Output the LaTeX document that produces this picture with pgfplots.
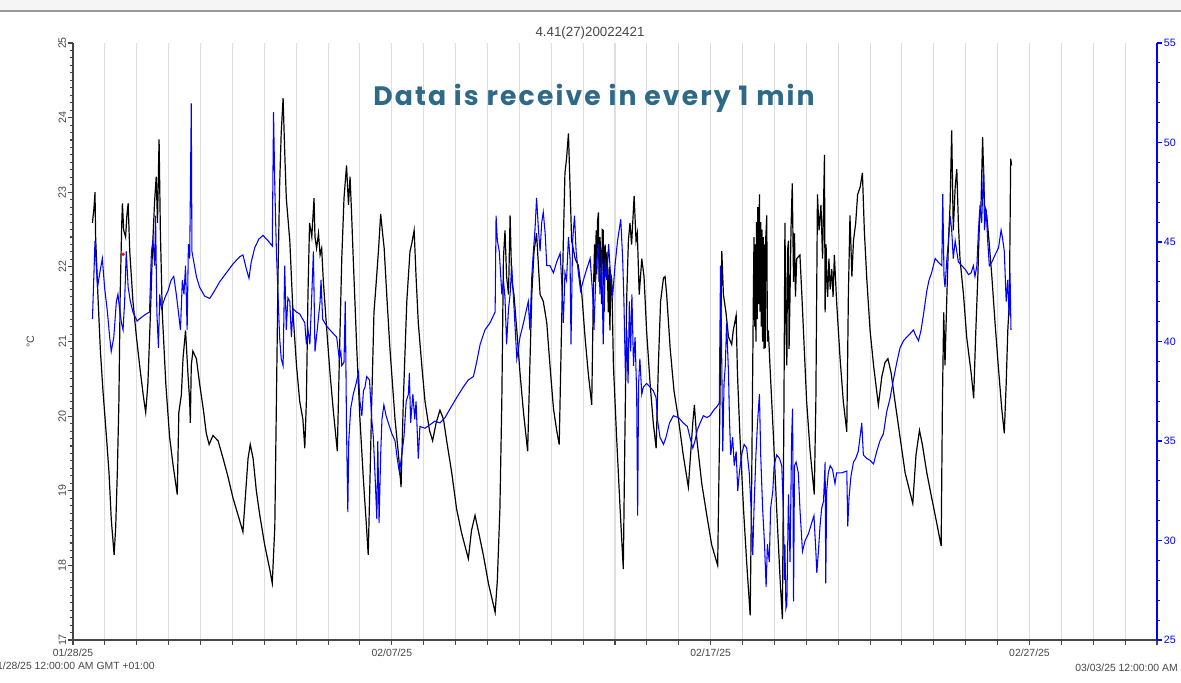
\documentclass[border=0pt]{standalone}
\usepackage{pgfplots}
\pgfplotsset{compat=1.18}
\usepackage{fontspec}
\setmainfont{Liberation Sans}
\newfontfamily\poppins{Poppins}[LetterSpace=8]
\definecolor{gridgray}{RGB}{222,222,222}
\definecolor{axgray}{RGB}{70,70,70}
\definecolor{noteteal}{RGB}{46,106,135}
\definecolor{rhblue}{RGB}{0,0,255}

% temperature (left axis, degC), x = days since 01/28/25
\pgfplotstableread{
d t
0.61 22.59
0.66 22.80
0.69 23.00
0.71 22.40
0.78 21.63
0.86 20.87
0.94 20.34
1.05 19.72
1.13 19.24
1.20 18.62
1.29 18.14
1.34 18.52
1.39 19.24
1.44 20.20
1.48 21.63
1.53 22.59
1.55 22.85
1.59 22.49
1.65 22.40
1.69 22.69
1.73 22.85
1.78 22.21
1.88 21.54
1.99 21.06
2.09 20.68
2.20 20.29
2.28 20.05
2.35 20.44
2.43 21.39
2.49 22.21
2.56 22.88
2.61 23.21
2.65 22.59
2.70 23.71
2.74 22.49
2.80 21.39
2.91 20.44
3.03 19.72
3.14 19.34
3.27 18.95
3.32 20.05
3.40 20.29
3.45 20.77
3.53 21.15
3.61 20.53
3.66 20.20
3.68 19.91
3.71 20.68
3.76 20.87
3.87 20.77
3.97 20.44
4.10 20.05
4.18 19.77
4.27 19.62
4.39 19.74
4.55 19.67
4.71 19.43
4.86 19.19
5.02 18.90
5.18 18.67
5.33 18.45
5.42 19.00
5.49 19.43
5.56 19.62
5.65 19.43
5.75 19.00
5.86 18.67
6.01 18.28
6.17 17.95
6.25 17.76
6.33 18.52
6.38 20.20
6.43 21.87
6.48 23.07
6.53 23.79
6.59 24.26
6.64 23.55
6.69 22.92
6.80 22.35
6.90 21.39
7.01 20.68
7.11 20.20
7.21 19.96
7.27 19.57
7.32 20.20
7.37 21.63
7.42 22.59
7.49 22.40
7.56 22.92
7.59 22.40
7.64 22.25
7.70 22.45
7.75 22.16
7.80 22.25
7.85 21.82
7.96 21.15
8.06 20.58
8.17 20.05
8.29 19.53
8.35 20.68
8.43 22.11
8.50 22.92
8.58 23.36
8.64 22.83
8.69 23.21
8.74 22.69
8.79 22.11
8.90 20.91
9.00 19.96
9.11 19.14
9.19 18.62
9.26 18.14
9.32 19.24
9.37 20.20
9.44 21.39
9.50 21.73
9.58 22.21
9.65 22.71
9.71 22.45
9.76 22.25
9.84 21.63
9.94 20.91
10.10 19.96
10.21 19.48
10.29 19.05
10.36 20.20
10.47 21.54
10.57 22.21
10.62 22.30
10.70 22.49
10.76 21.87
10.83 21.25
10.94 20.68
11.04 20.20
11.18 19.81
11.28 19.67
11.39 19.91
11.51 20.08
11.62 19.96
11.72 19.67
11.88 19.24
12.03 18.76
12.19 18.43
12.40 18.09
12.50 18.47
12.61 18.67
12.71 18.47
12.87 18.14
13.03 17.76
13.24 17.37
13.31 17.80
13.39 18.76
13.45 20.20
13.50 22.11
13.55 22.49
13.60 21.87
13.66 21.63
13.71 22.69
13.76 21.82
13.83 21.63
13.92 21.15
14.02 20.58
14.13 20.05
14.26 19.53
14.33 20.68
14.39 21.63
14.46 22.21
14.54 22.45
14.65 21.63
14.75 21.54
14.86 21.25
14.96 20.68
15.07 20.10
15.17 19.81
15.25 19.62
15.31 20.91
15.38 22.35
15.43 23.26
15.48 23.45
15.54 23.79
15.59 23.07
15.64 22.35
15.75 22.11
15.85 22.02
15.96 21.63
16.06 21.06
16.16 20.58
16.27 20.15
16.32 21.63
16.36 22.30
16.38 21.80
16.41 22.49
16.43 21.90
16.45 22.60
16.48 22.73
16.50 21.80
16.53 22.40
16.55 22.11
16.58 21.50
16.60 22.50
16.63 22.49
16.66 21.40
16.69 22.30
16.72 21.87
16.75 22.20
16.79 21.39
16.82 22.00
16.84 21.15
16.87 21.90
16.90 21.82
16.95 20.68
17.05 19.72
17.16 18.76
17.26 17.95
17.31 19.72
17.37 21.63
17.42 22.35
17.47 22.59
17.52 22.30
17.60 22.95
17.66 22.35
17.70 22.45
17.76 21.63
17.84 22.11
17.91 21.87
17.99 21.15
18.10 20.44
18.20 19.91
18.29 19.57
18.36 20.68
18.43 21.54
18.52 21.85
18.57 21.87
18.62 21.63
18.73 20.91
18.85 20.34
18.99 19.96
19.14 19.48
19.30 19.05
19.37 19.48
19.44 19.91
19.49 20.15
19.56 19.72
19.72 19.10
19.88 18.67
20.03 18.28
20.22 18.00
20.27 19.48
20.32 21.15
20.35 22.21
20.40 21.63
20.48 21.39
20.56 21.06
20.66 20.96
20.71 21.15
20.80 21.35
20.84 20.58
20.92 19.72
21.03 18.76
21.13 18.04
21.24 17.33
21.29 19.24
21.34 21.63
21.36 22.40
21.38 21.20
21.40 22.30
21.42 21.00
21.44 22.60
21.46 21.30
21.48 22.80
21.50 21.50
21.53 22.97
21.55 21.40
21.57 22.60
21.59 21.20
21.61 22.50
21.63 21.00
21.65 22.40
21.67 20.90
21.69 22.30
21.71 20.91
21.73 22.40
21.76 22.69
21.78 21.00
21.81 21.15
21.86 20.68
21.97 19.72
22.07 18.76
22.18 17.80
22.25 17.28
22.30 20.20
22.33 22.59
22.36 21.20
22.39 20.68
22.41 22.20
22.44 22.35
22.46 20.90
22.49 21.63
22.52 22.50
22.56 23.12
22.60 21.80
22.63 22.45
22.66 21.60
22.70 22.11
22.80 22.16
22.86 21.63
22.91 21.15
23.01 20.20
23.12 19.53
23.25 18.95
23.30 20.20
23.35 22.97
23.40 22.49
23.46 22.83
23.51 22.11
23.57 23.50
23.59 21.39
23.62 22.30
23.64 21.92
23.67 21.60
23.71 22.11
23.75 21.70
23.80 21.97
23.84 21.60
23.88 22.16
23.95 21.54
24.06 20.77
24.16 20.20
24.27 19.79
24.32 21.63
24.37 22.69
24.43 21.87
24.48 22.35
24.55 22.59
24.61 22.97
24.69 23.07
24.76 23.26
24.82 22.49
24.90 21.82
25.00 21.15
25.11 20.68
25.26 20.15
25.37 20.53
25.47 20.72
25.56 20.77
25.66 20.58
25.78 20.20
25.94 19.72
26.10 19.24
26.34 18.83
26.44 19.48
26.55 19.81
26.64 19.62
26.78 19.24
26.93 18.91
27.09 18.57
27.23 18.26
27.27 20.20
27.31 21.39
27.35 20.68
27.41 21.63
27.46 22.35
27.51 22.83
27.56 23.83
27.61 22.49
27.67 23.07
27.72 23.31
27.77 22.59
27.82 22.11
27.93 21.63
28.03 21.06
28.17 20.58
28.25 20.24
28.31 21.06
28.38 21.87
28.43 22.59
28.48 22.83
28.53 23.74
28.59 22.83
28.66 22.69
28.73 22.35
28.82 21.87
28.92 21.25
29.02 20.68
29.13 20.10
29.21 19.77
29.27 20.44
29.32 21.15
29.37 21.54
29.41 23.45
29.44 23.36
}\temptable

% second channel (right axis)
\pgfplotstableread{
d h
0.61 41.12
0.65 43.09
0.69 45.06
0.73 43.81
0.77 42.73
0.84 43.45
0.92 44.17
0.99 42.73
1.08 41.48
1.15 40.22
1.20 39.50
1.28 40.22
1.36 42.01
1.41 42.37
1.46 41.65
1.52 40.94
1.57 40.58
1.62 42.01
1.67 44.53
1.73 42.73
1.80 42.01
1.88 41.48
2.01 41.03
2.14 41.21
2.30 41.39
2.40 41.48
2.46 44.53
2.51 45.06
2.56 43.81
2.59 46.32
2.63 41.48
2.68 39.68
2.72 42.37
2.77 41.65
2.88 42.19
2.98 42.55
3.08 43.09
3.16 43.27
3.24 42.37
3.32 41.30
3.37 40.58
3.43 43.09
3.48 42.37
3.53 43.81
3.58 40.58
3.62 44.89
3.66 44.17
3.71 51.97
3.73 44.53
3.79 43.99
3.87 43.27
3.97 42.73
4.13 42.28
4.29 42.16
4.44 42.55
4.60 43.00
4.81 43.45
5.02 43.90
5.23 44.26
5.33 44.35
5.44 43.63
5.52 43.18
5.59 43.99
5.70 44.71
5.83 45.15
5.96 45.33
6.12 45.06
6.25 44.80
6.29 51.53
6.33 47.76
6.38 44.53
6.43 42.37
6.48 40.22
6.53 39.14
6.59 38.78
6.64 43.81
6.69 40.58
6.74 42.19
6.80 42.01
6.85 40.22
6.90 41.65
7.01 41.48
7.11 41.39
7.27 40.94
7.32 39.86
7.37 40.58
7.43 39.86
7.49 42.37
7.54 44.53
7.59 39.50
7.66 40.58
7.75 42.01
7.78 43.09
7.83 41.12
7.96 40.76
8.11 40.49
8.27 40.22
8.35 39.14
8.40 39.50
8.43 38.78
8.50 38.96
8.54 42.01
8.58 35.55
8.62 31.43
8.65 35.01
8.71 36.63
8.79 37.35
8.88 37.89
8.95 38.42
9.00 36.99
9.06 36.27
9.11 37.53
9.16 37.71
9.21 38.24
9.30 38.07
9.37 36.09
9.42 35.19
9.47 33.40
9.53 31.07
9.56 35.01
9.60 30.89
9.65 34.30
9.69 36.09
9.75 36.81
9.82 36.27
9.89 35.91
10.00 35.37
10.10 35.01
10.17 34.12
10.24 33.40
10.31 34.30
10.38 35.19
10.45 36.99
10.52 37.35
10.55 38.42
10.59 35.91
10.66 37.35
10.72 36.09
10.76 36.99
10.83 34.12
10.88 35.73
11.04 35.64
11.20 35.82
11.35 36.00
11.51 35.91
11.67 36.18
11.83 36.63
12.03 37.17
12.24 37.71
12.40 38.07
12.56 38.24
12.66 38.96
12.77 39.86
12.92 40.58
13.08 40.94
13.24 41.48
13.27 46.32
13.31 45.06
13.37 44.53
13.45 42.37
13.50 43.09
13.55 42.19
13.60 39.86
13.66 41.65
13.71 42.37
13.76 43.81
13.81 42.37
13.92 39.14
14.02 40.22
14.13 40.94
14.28 42.01
14.33 40.58
14.39 43.27
14.44 44.53
14.49 45.60
14.54 47.22
14.60 45.60
14.65 44.53
14.70 45.96
14.75 46.50
14.81 45.42
14.86 43.81
14.96 43.81
15.07 43.45
15.17 43.99
15.28 44.44
15.33 42.91
15.38 40.94
15.43 43.45
15.48 43.09
15.54 45.24
15.59 44.17
15.62 39.86
15.67 45.06
15.73 46.32
15.78 44.53
15.85 43.45
15.92 42.55
16.01 43.09
16.11 43.63
16.22 44.17
16.30 42.37
16.34 40.58
16.41 43.81
16.48 44.89
16.53 42.37
16.58 44.53
16.63 39.86
16.69 44.17
16.74 43.09
16.80 44.89
16.87 43.09
16.93 42.37
17.00 43.81
17.08 45.06
17.18 46.14
17.24 44.17
17.28 42.01
17.33 38.07
17.37 40.58
17.41 37.89
17.45 42.01
17.49 39.50
17.53 42.37
17.58 38.78
17.63 40.22
17.68 37.35
17.71 31.25
17.74 37.89
17.78 39.14
17.84 37.35
17.89 37.71
17.99 37.89
18.10 37.71
18.20 37.53
18.29 37.17
18.33 36.09
18.41 35.19
18.52 34.83
18.60 35.19
18.71 35.91
18.83 36.27
18.99 36.18
19.14 35.91
19.27 35.73
19.35 35.19
19.44 34.65
19.51 35.01
19.58 35.55
19.67 35.91
19.77 36.27
19.88 36.18
19.98 36.27
20.09 36.54
20.19 36.72
20.27 36.90
20.31 43.81
20.35 38.78
20.38 34.48
20.42 37.89
20.46 38.78
20.50 40.94
20.56 38.42
20.59 36.09
20.63 34.30
20.69 35.19
20.74 33.76
20.80 34.48
20.85 32.50
20.90 33.40
20.97 34.30
21.05 34.83
21.13 34.65
21.21 33.40
21.27 31.60
21.32 29.27
21.36 31.60
21.42 34.30
21.47 35.91
21.53 37.35
21.57 34.30
21.63 31.60
21.69 29.81
21.74 27.66
21.78 29.81
21.84 28.91
21.88 31.60
21.95 32.50
21.99 33.76
22.07 34.30
22.16 34.12
22.23 33.76
22.28 31.60
22.31 28.02
22.33 29.81
22.36 26.58
22.39 26.76
22.44 32.32
22.49 28.91
22.54 35.19
22.57 36.63
22.60 26.94
22.63 33.76
22.68 33.94
22.75 33.40
22.80 31.60
22.88 29.45
22.96 29.99
23.07 30.35
23.17 30.89
23.24 31.25
23.30 29.45
23.33 28.37
23.38 29.45
23.43 30.71
23.48 31.60
23.54 31.96
23.59 33.94
23.61 27.84
23.64 32.50
23.69 33.40
23.75 33.76
23.82 33.58
23.90 32.86
23.95 33.40
24.11 33.40
24.27 33.49
24.30 30.71
24.34 32.14
24.40 33.22
24.48 33.94
24.55 34.12
24.63 34.48
24.74 35.91
24.79 34.30
24.90 34.12
25.00 34.03
25.11 33.85
25.21 34.48
25.31 35.01
25.42 35.37
25.52 36.45
25.63 37.17
25.73 38.07
25.84 38.96
25.94 39.68
26.05 40.04
26.15 40.22
26.26 40.40
26.36 40.58
26.43 40.31
26.52 40.04
26.60 40.58
26.67 41.30
26.78 42.55
26.85 43.09
26.93 43.45
27.04 44.17
27.14 43.99
27.25 43.81
27.28 47.40
27.32 43.27
27.35 42.73
27.41 44.17
27.46 45.06
27.51 46.32
27.56 45.60
27.61 44.17
27.67 45.06
27.72 44.53
27.77 43.99
27.88 43.81
27.98 43.63
28.09 43.36
28.17 43.45
28.24 43.81
28.29 43.27
28.35 43.81
28.40 45.60
28.45 46.86
28.50 45.96
28.56 48.83
28.59 45.60
28.64 46.68
28.69 45.06
28.74 43.81
28.82 43.99
28.92 44.35
29.03 44.71
29.11 45.60
29.15 45.24
29.21 44.53
29.27 42.01
29.32 43.09
29.36 41.30
29.39 43.45
29.42 40.58
}\humtable

\begin{document}
\begin{tikzpicture}[font=\fontsize{8}{9.6}\selectfont]
\fill[black!4] (-54.75pt,471.75pt) rectangle (831pt,480pt);
\draw[black!40, line width=1.5pt] (-54.75pt,471.75pt) -- (831pt,471.75pt);
\begin{axis}[
  at={(0,0)}, anchor=south west,
  width=813pt, height=447.75pt, scale only axis,
  xmin=0, xmax=34, ymin=17, ymax=25,
  axis x line*=bottom, axis y line*=left,
  axis line style={axgray, line width=1pt},
  xtick={0,1,...,34},
  xticklabels={{01/28/25\\01/28/25 12:00:00 AM GMT +01:00},,,,,,,,,,02/07/25,,,,,,,,,,02/17/25,,,,,,,,,,02/27/25,,,,{\strut\\03/03/25 12:00:00 AM GMT +01:00}},
  xticklabel style={align=center, font=\fontsize{7.8}{9.75}\selectfont, inner sep=3pt, text=axgray},
  xmajorgrids,
  major grid style={gridgray, line width=0.8pt},
  ytick distance=1, minor y tick num=9,
  yticklabel style={rotate=90, anchor=south, text=axgray, inner sep=1.5pt},
  tick align=outside,
  major tick length=3.5pt, minor tick length=2pt,
  tick style={axgray, line width=0.8pt},
  /pgf/number format/assume math mode=true,
]
\addplot[black, line width=0.9pt] table[x=d, y=t] {\temptable};
\addplot[only marks, mark=*, mark size=1.1pt, red] coordinates {(1.57,22.17)};
\end{axis}
\begin{axis}[
  at={(0,0)}, anchor=south west,
  width=813pt, height=447.75pt, scale only axis,
  xmin=0, xmax=34, ymin=25, ymax=55,
  axis x line=none, axis y line*=right,
  axis line style={rhblue, line width=1pt},
  ytick distance=5, minor y tick num=4,
  tick align=outside,
  major tick length=3.5pt, minor tick length=2pt,
  tick style={rhblue, line width=0.8pt},
  yticklabel style={text=rhblue, inner sep=1.5pt},
  /pgf/number format/assume math mode=true,
]
\addplot[rhblue, line width=0.8pt] table[x=d, y=h] {\humtable};
\end{axis}
\node[rotate=90, text=axgray] at (-32pt,224pt) {°C};
\node[font=\fontsize{10}{12}\selectfont, text=axgray] at (387.75pt,455pt) {4.41(27)20022421};
\node[font=\poppins\bfseries\fontsize{20}{22}\selectfont, text=noteteal] at (390.75pt,406.5pt) {Data is receive in every 1 min};
\pgfresetboundingbox
\path[use as bounding box] (-54.75pt,-31.5pt) rectangle (831pt,480pt);
\end{tikzpicture}
\end{document}
